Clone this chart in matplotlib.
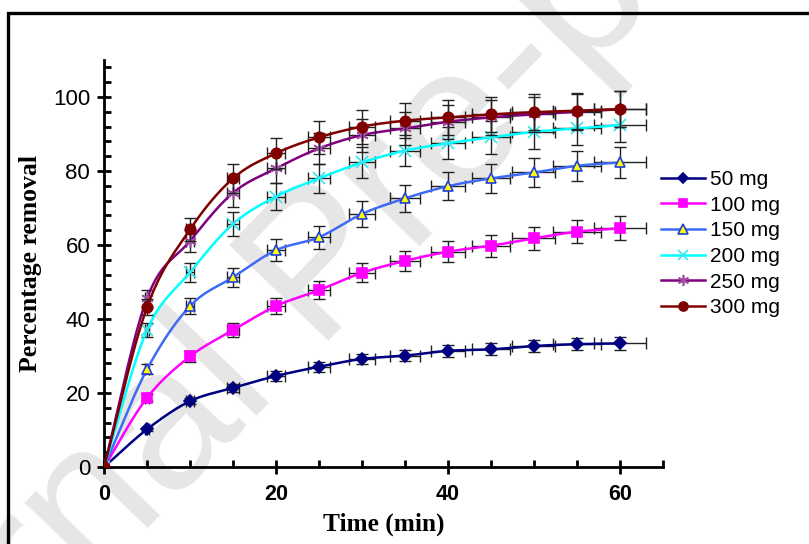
import matplotlib.pyplot as plt
import numpy as np
from matplotlib.patches import Rectangle

# time (min) and percentage removal for each dose
time_min = [0, 5, 10, 15, 20, 25, 30, 35, 40, 45, 50, 55, 60]
rem_50 = [0, 10.2, 17.8, 21.4, 24.6, 27.1, 29.2, 30.1, 31.4, 31.8, 32.7, 33.2, 33.4]
rem_100 = [0, 18.7, 29.9, 37.0, 43.5, 47.8, 52.5, 55.7, 58.2, 59.8, 61.8, 63.6, 64.5]
rem_150 = [0, 26.4, 43.5, 51.3, 58.6, 62.1, 68.4, 72.6, 75.9, 78.0, 79.6, 81.4, 82.3]
rem_200 = [0, 37.0, 52.6, 65.7, 73.1, 78.0, 82.3, 85.5, 87.5, 89.1, 90.6, 91.5, 92.4]
rem_250 = [0, 45.6, 61.1, 74.1, 80.7, 86.1, 89.7, 91.5, 93.3, 94.5, 95.3, 96.0, 96.7]
rem_300 = [0, 43.2, 64.2, 78.0, 84.8, 89.1, 92.0, 93.6, 94.5, 95.3, 95.9, 96.3, 96.7]
labels = ["50 mg", "100 mg", "150 mg", "200 mg", "250 mg", "300 mg"]

ERR_FRAC = 0.05  # percentage error bars, both directions


def smooth(x, y, n=20):
    # catmull-rom through the points, like the spreadsheet "smoothed line"
    x = np.asarray(x, float)
    y = np.asarray(y, float)
    px = np.concatenate([[2 * x[0] - x[1]], x, [2 * x[-1] - x[-2]]])
    py = np.concatenate([[2 * y[0] - y[1]], y, [2 * y[-1] - y[-2]]])
    t = np.linspace(0, 1, n, endpoint=False)
    xs, ys = [], []
    for i in range(1, len(px) - 2):
        for arr, out in ((px, xs), (py, ys)):
            p0, p1, p2, p3 = arr[i - 1], arr[i], arr[i + 1], arr[i + 2]
            out.extend(0.5 * (2 * p1 + (-p0 + p2) * t
                              + (2 * p0 - 5 * p1 + 4 * p2 - p3) * t ** 2
                              + (-p0 + 3 * p1 - 3 * p2 + p3) * t ** 3))
    xs.append(x[-1])
    ys.append(y[-1])
    return xs, ys


styles = [
    dict(color="#000080", marker="D", mfc="#000080", mec="#000080", ms=6),
    dict(color="#FF00FF", marker="s", mfc="#FF00FF", mec="#FF00FF", ms=7),
    dict(color="#3D6BF5", marker="^", mfc="#FFFF00", mec="#1F3FE0", ms=7.5),
    dict(color="#00FFFF", marker="x", mfc="#00FFFF", mec="#33E6F0", ms=8),
    dict(color="#800080", marker=(6, 2, 0), mfc="#A050A0", mec="#A050A0", ms=9),
    dict(color="#800000", marker="o", mfc="#800000", mec="#800000", ms=7.5),
]

fig = plt.figure(figsize=(8.09, 5.44), dpi=100)
ax = fig.add_axes([0.1286, 0.1415, 0.6909, 0.7482])
ax.patch.set_alpha(0)
ax.set_zorder(2)

# watermark
fig.text(0.40, 0.50, "Journal Pre-proof", fontsize=145, color="#e6e6e6",
         rotation=46, ha="center", va="center", family="Liberation Sans", zorder=0)

# frame around the figure
fig.patches.append(Rectangle((8 / 809, -0.1), 1.2, 1 - 13 / 544 + 0.1, transform=fig.transFigure,
                             fill=False, edgecolor="black", linewidth=2.4, zorder=1))

series = [rem_50, rem_100, rem_150, rem_200, rem_250, rem_300]
tx = np.array(time_min, float)
for k, (vals, lab, st) in enumerate(zip(series, labels, styles)):
    vy = np.array(vals, float)
    ax.errorbar(tx, vy, xerr=ERR_FRAC * tx, yerr=ERR_FRAC * vy, fmt="none",
                ecolor="#222222", elinewidth=1.0, capsize=4, capthick=1.0, zorder=2 + k * 3)
    sx, sy = smooth(tx, vy)
    ax.plot(sx, sy, color=st["color"], lw=1.8, zorder=3 + k * 3)
    ax.plot(tx, vy, linestyle="none", marker=st["marker"], ms=st["ms"],
            mfc=st["mfc"], mec=st["mec"], mew=1.2, zorder=4 + k * 3)
    ax.plot([], [], color=st["color"], lw=1.8, marker=st["marker"], ms=st["ms"] - 1,
            mfc=st["mfc"], mec=st["mec"], mew=1.2, label=lab)

ax.set_xlim(0, 65)
ax.set_ylim(0, 110)
ax.set_xticks([0, 20, 40, 60])
ax.set_xticks(np.arange(0, 66, 5), minor=True)
ax.set_yticks([0, 20, 40, 60, 80, 100])
ax.set_yticks(np.arange(0, 111, 4), minor=True)
for s in ("top", "right"):
    ax.spines[s].set_visible(False)
for s in ("left", "bottom"):
    ax.spines[s].set_linewidth(2)
ax.tick_params(which="major", direction="inout", length=10, width=2)
ax.tick_params(which="minor", direction="in", length=5, width=2)
ax.tick_params(axis="y", labelsize=16, pad=5)
ax.tick_params(axis="x", labelsize=15.5, pad=7)
for t in ax.get_yticklabels():
    t.set_family("Liberation Sans")
for t in ax.get_xticklabels():
    t.set_family("Liberation Sans")
    t.set_fontweight("bold")

ax.set_xlabel("Time (min)", family="Liberation Serif", fontweight="bold", fontsize=18.3, labelpad=6)
ax.set_ylabel("Percentage removal", family="Liberation Serif", fontweight="bold", fontsize=18.5,
              labelpad=8)

ax.legend(loc="upper left", bbox_to_anchor=(661 / 809, 1 - 170 / 544),
          bbox_transform=fig.transFigure, frameon=False,
          prop=dict(family="Liberation Sans", size=15), handlelength=2.1,
          handletextpad=0.25, labelspacing=0.32, borderpad=0, borderaxespad=0)

fig.savefig("out.png", dpi=100)
